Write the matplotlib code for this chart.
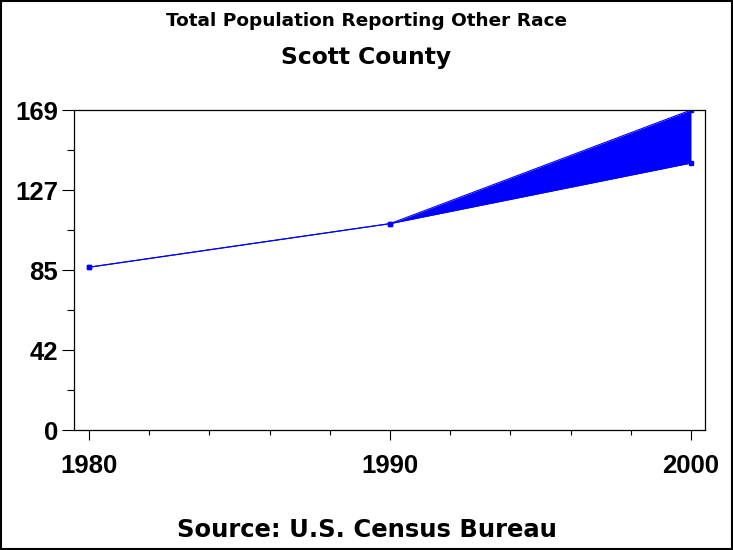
import matplotlib.pyplot as plt
from matplotlib.patches import Rectangle
from matplotlib.ticker import FixedLocator

years = [1980, 1990, 2000]
upper = [86, 109, 169]
lower = [86, 109, 141]

y_ticks = [0, 42.25, 84.5, 126.75, 169]
y_labels = ["0", "42", "85", "127", "169"]
x_ticks = [1980, 1990, 2000]
x_labels = ["1980", "1990", "2000"]

plt.rcParams["font.family"] = ["Liberation Sans", "DejaVu Sans"]

fig = plt.figure(figsize=(7.33, 5.5), dpi=100)
ax = fig.add_axes([0.101, 0.218, 0.861, 0.582])

blue = "#0000ff"
ax.fill_between(years, lower, upper, color=blue, linewidth=0)
ax.plot(years, upper, color=blue, linewidth=0.8, marker="s", markersize=2.5)
ax.plot(years, lower, color=blue, linewidth=0.8, marker="s", markersize=2.5)

ax.set_xlim(1979.5, 2000.47)
ax.set_ylim(0, 169)

ax.set_yticks(y_ticks)
ax.set_yticklabels(y_labels, fontsize=18.5, fontweight="bold")
ax.yaxis.set_minor_locator(FixedLocator([21.125, 63.375, 105.625, 147.875]))
ax.set_xticks(x_ticks)
ax.set_xticklabels(x_labels, fontsize=18.5, fontweight="bold")
ax.xaxis.set_minor_locator(FixedLocator([1982, 1984, 1986, 1988, 1992, 1994, 1996, 1998]))

ax.tick_params(axis="y", which="major", length=8.6, width=0.8, pad=3)
ax.tick_params(axis="y", which="minor", length=5, width=0.8)
ax.tick_params(axis="x", which="major", length=7.5, width=0.8, pad=10)
ax.tick_params(axis="x", which="minor", length=3.5, width=0.8)
for s in ax.spines.values():
    s.set_linewidth(0.9)

# titles in a wider face, closer to the original's letter widths
fig.text(0.5, 0.962, "Total Population Reporting Other Race", ha="center", va="center",
         fontsize=13.3, fontweight="bold", family="DejaVu Sans")
fig.text(0.5, 0.895, "Scott County", ha="center", va="center", fontsize=16.8,
         fontweight="bold", family="DejaVu Sans")
fig.text(0.5, 0.036, "Source: U.S. Census Bureau", ha="center", va="center",
         fontsize=17.5, fontweight="bold", family="DejaVu Sans")

fig.patches.append(Rectangle((0.001, 0.001), 0.997, 0.997, transform=fig.transFigure,
                             fill=False, edgecolor="black", linewidth=1.5))

fig.savefig("out.png", dpi=100)
